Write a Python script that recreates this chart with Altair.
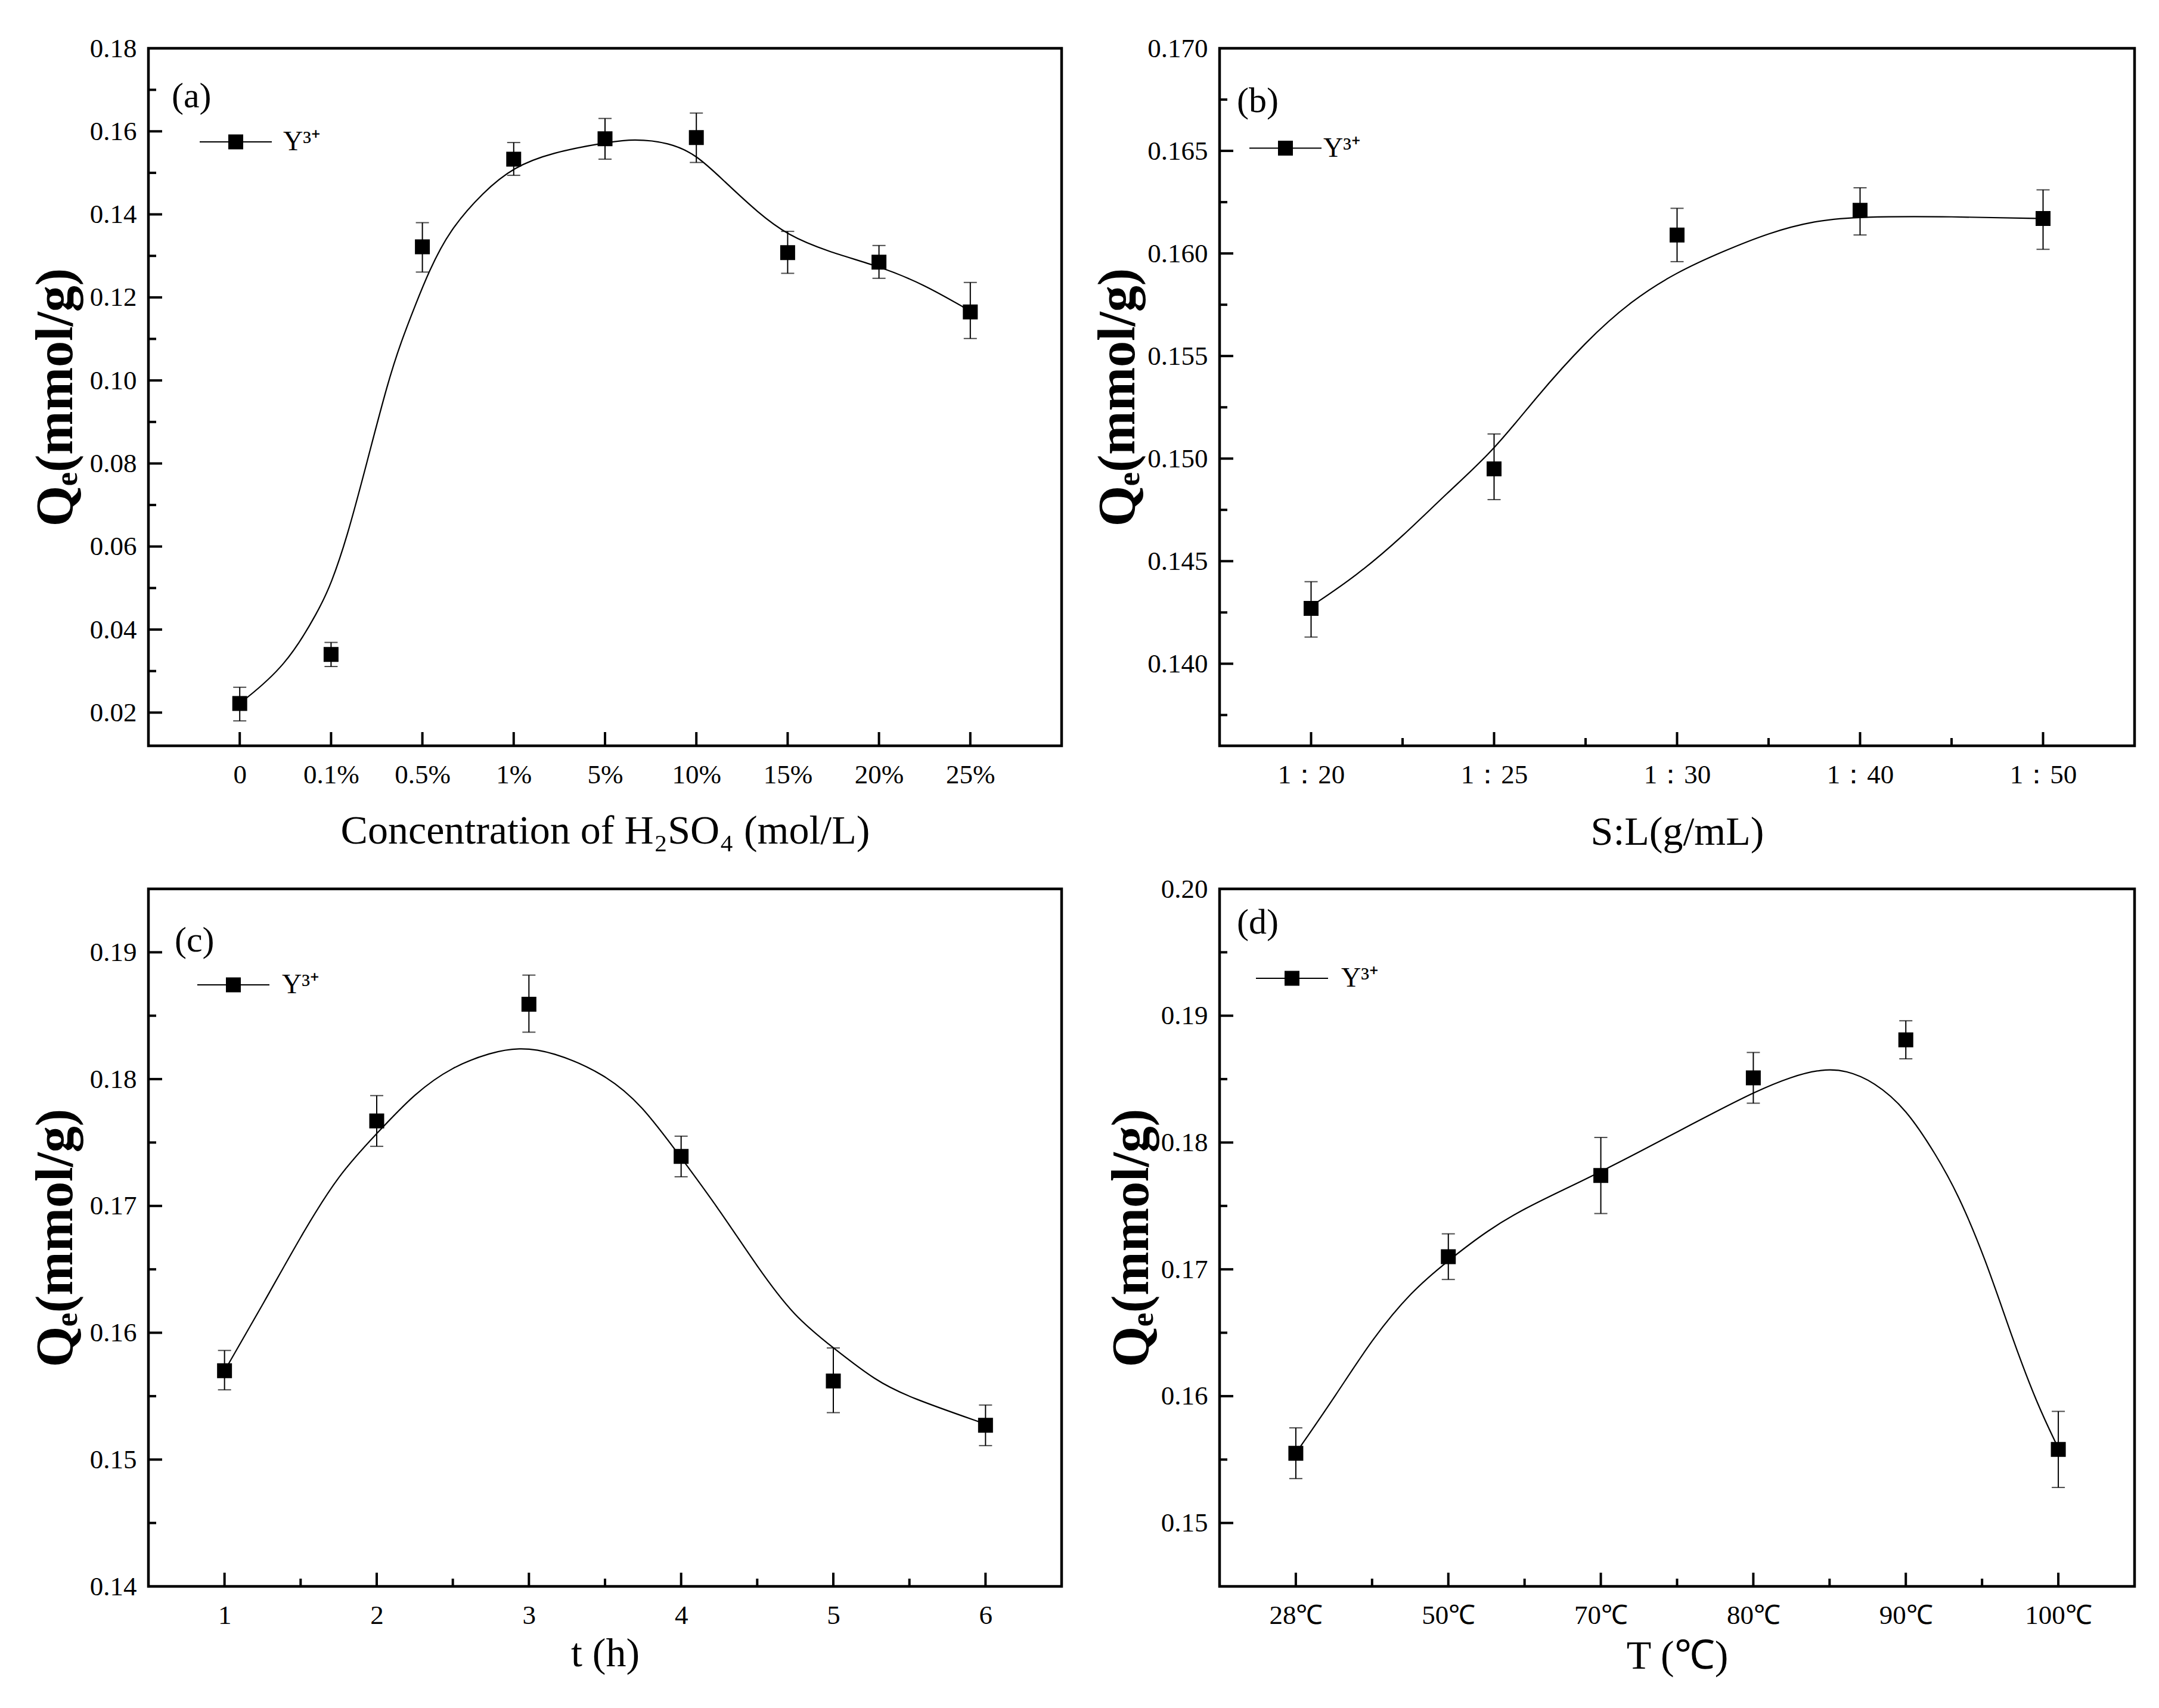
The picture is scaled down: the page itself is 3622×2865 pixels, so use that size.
import json
import altair as alt
import pandas as pd

FONT = "Liberation Serif"
SERIES = "Y\u00b3\u207a"

# ---------------- Panel (a) ----------------
a_cats = ["0", "0.1%", "0.5%", "1%", "5%", "10%", "15%", "20%", "25%"]
a_val = [0.0222, 0.0340, 0.1322, 0.1533, 0.1582, 0.1585, 0.1308, 0.1285, 0.1165]
a_lo = [0.0180, 0.0311, 0.1261, 0.1494, 0.1533, 0.1525, 0.1258, 0.1246, 0.1101]
a_hi = [0.0261, 0.0369, 0.1380, 0.1573, 0.1631, 0.1644, 0.1359, 0.1325, 0.1236]
a_cx = [0, 0.5, 0.87, 1.0, 1.17, 1.39, 1.62, 1.77, 1.92, 2.07, 2.29, 2.67, 3.0, 3.42,
        4.0, 4.32, 4.7, 5.0, 5.3, 5.68, 6.0, 6.43, 7.0, 7.48, 8.0]
a_cy = [0.0222, 0.0310, 0.0448, 0.0510, 0.0618, 0.0800, 0.0995, 0.1095, 0.1180,
        0.1262, 0.1360, 0.1455, 0.1514, 0.1549, 0.1573, 0.1582, 0.1573, 0.1544,
        0.1481, 0.1403, 0.1350, 0.1311, 0.1275, 0.1233, 0.1167]
a_ymaj = [0.02, 0.04, 0.06, 0.08, 0.10, 0.12, 0.14, 0.16, 0.18]
a_ymin = [0.03, 0.05, 0.07, 0.09, 0.11, 0.13, 0.15, 0.17]

# ---------------- Panel (b) ----------------
b_cats = ["1\uff1a20", "1\uff1a25", "1\uff1a30", "1\uff1a40", "1\uff1a50"]
b_val = [0.1427, 0.1495, 0.1609, 0.1621, 0.1617]
b_lo = [0.1413, 0.1480, 0.1596, 0.1609, 0.1602]
b_hi = [0.1440, 0.1512, 0.1622, 0.1632, 0.1631]
b_cx = [0, 0.25, 0.5, 0.74, 1.0, 1.23, 1.5, 1.75, 2.0, 2.25, 2.5, 2.75, 3.0, 3.5, 4.0]
b_cy = [0.1428, 0.1443, 0.1462, 0.1483, 0.1504, 0.1530, 0.1557, 0.1577, 0.1591,
        0.1601, 0.1610, 0.1616, 0.1618, 0.1618, 0.1617]
b_ymaj = [0.140, 0.145, 0.150, 0.155, 0.160, 0.165, 0.170]
b_ymin = [0.1375, 0.1425, 0.1475, 0.1525, 0.1575, 0.1625, 0.1675]

# ---------------- Panel (c) ----------------
c_cats = ["1", "2", "3", "4", "5", "6"]
c_val = [0.1570, 0.1767, 0.1859, 0.1739, 0.1562, 0.1527]
c_lo = [0.1555, 0.1747, 0.1837, 0.1723, 0.1537, 0.1511]
c_hi = [0.1586, 0.1787, 0.1882, 0.1755, 0.1588, 0.1543]
c_cx = [0, 0.26, 0.5, 0.75, 1.0, 1.25, 1.5, 1.75, 1.93, 2.15, 2.5, 2.74, 3.0, 3.24,
        3.5, 3.74, 4.0, 4.28, 4.5, 5.0]
c_cy = [0.1570, 0.1624, 0.1676, 0.1725, 0.1757, 0.1789, 0.1810, 0.1821, 0.1825,
        0.1822, 0.1804, 0.1780, 0.1738, 0.1699, 0.1652, 0.1613, 0.1588, 0.1562,
        0.1549, 0.1528]
c_ymaj = [0.14, 0.15, 0.16, 0.17, 0.18, 0.19]
c_ymin = [0.145, 0.155, 0.165, 0.175, 0.185]

# ---------------- Panel (d) ----------------
d_cats = ["28\u2103", "50\u2103", "70\u2103", "80\u2103", "90\u2103", "100\u2103"]
d_val = [0.1555, 0.1710, 0.1774, 0.1851, 0.1881, 0.1558]
d_lo = [0.1535, 0.1692, 0.1744, 0.1831, 0.1866, 0.1528]
d_hi = [0.1575, 0.1728, 0.1804, 0.1871, 0.1896, 0.1588]
d_cx = [0, 0.27, 0.5, 0.76, 1.0, 1.26, 1.5, 1.76, 2.0, 2.26, 2.51, 2.75, 3.01, 3.25,
        3.45, 3.61, 3.79, 4.0, 4.2, 4.34, 4.52, 4.7, 4.86, 5.0]
d_cy = [0.1555, 0.1602, 0.1645, 0.1683, 0.1707, 0.1731, 0.1748, 0.1763, 0.1777,
        0.1793, 0.1809, 0.1824, 0.1840, 0.1852, 0.1858, 0.1857, 0.1848, 0.1827,
        0.1790, 0.1760, 0.1709, 0.1645, 0.1594, 0.1559]
d_ymaj = [0.15, 0.16, 0.17, 0.18, 0.19, 0.20]
d_ymin = [0.155, 0.165, 0.175, 0.185, 0.195]

LEG_PATH = "M-1,0H-0.19M0.19,0H1M-0.19,-0.19H0.19V0.19H-0.19Z"


def panel(cats, val, lo, hi, cx, cy, xdom, ydom, ymaj, ymin, xminor, yfmt,
          xtitle, ytitle, tag, W, H, tag_xy, leg_xy, leg_off, x_tpad, y_tpad):
    idx = list(range(len(cats)))
    pts = pd.DataFrame({"x": idx, "v": val, "lo": lo, "hi": hi,
                        "series": [SERIES] * len(cats)})
    cur = pd.DataFrame({"x": cx, "y": cy})
    xs = alt.Scale(domain=xdom, nice=False, zero=False)
    ys = alt.Scale(domain=ydom, nice=False, zero=False)
    lab = json.dumps(cats, ensure_ascii=False) + "[datum.value]"
    xaxis = alt.Axis(values=idx, labelExpr=lab, title=xtitle, titlePadding=x_tpad,
                     labelPadding=26, labelFont=FONT, labelFontSize=45,
                     titleFont=FONT, titleFontSize=68, titleFontWeight="normal")
    yaxis = alt.Axis(values=ymaj, format=yfmt, title=ytitle, titlePadding=y_tpad,
                     labelPadding=20, labelFont=FONT, labelFontSize=45,
                     titleFont=FONT, titleFontSize=88, titleFontWeight="bold")
    X = lambda f: alt.X(f, scale=xs, axis=xaxis)
    Y = lambda f: alt.Y(f, scale=ys, axis=yaxis)

    curve = alt.Chart(cur).mark_line(interpolate="basis", color="black",
                                     strokeWidth=2.2).encode(x=X("x:Q"), y=Y("y:Q"))
    base = alt.Chart(pts)
    err = base.mark_rule(color="black", strokeWidth=2).encode(
        x=X("x:Q"), y=Y("lo:Q"), y2="hi:Q")
    cap_hi = base.mark_tick(orient="horizontal", size=22, thickness=2,
                            color="black").encode(x=X("x:Q"), y=Y("hi:Q"))
    cap_lo = base.mark_tick(orient="horizontal", size=22, thickness=2,
                            color="black").encode(x=X("x:Q"), y=Y("lo:Q"))
    sq = base.mark_square(size=529, filled=True, opacity=1, stroke="black",
                          strokeWidth=2).encode(
        x=X("x:Q"), y=Y("v:Q"),
        color=alt.Color("series:N", scale=alt.Scale(range=["black"]),
                        legend=alt.Legend(orient="none", legendX=leg_xy[0],
                                          legendY=leg_xy[1], title=None,
                                          symbolType=LEG_PATH, symbolSize=14641,
                                          symbolStrokeWidth=2,
                                          symbolStrokeColor="black",
                                          labelFont=FONT, labelFontSize=46,
                                          labelColor="black",
                                          labelOffset=leg_off, padding=0)))
    yt_maj = alt.Chart(pd.DataFrame({"v": ymaj})).mark_rule(
        color="black", strokeWidth=4).encode(y=Y("v:Q"), x=alt.value(0), x2=alt.value(23))
    yt_min = alt.Chart(pd.DataFrame({"v": ymin})).mark_rule(
        color="black", strokeWidth=4).encode(y=Y("v:Q"), x=alt.value(0), x2=alt.value(13))
    xt_maj = alt.Chart(pd.DataFrame({"v": idx})).mark_rule(
        color="black", strokeWidth=4).encode(x=X("v:Q"), y=alt.value(H), y2=alt.value(H - 23))
    layers = [yt_maj, yt_min, xt_maj]
    if xminor:
        xt_min = alt.Chart(pd.DataFrame({"v": xminor})).mark_rule(
            color="black", strokeWidth=4).encode(x=X("v:Q"), y=alt.value(H), y2=alt.value(H - 13))
        layers.append(xt_min)
    txt = alt.Chart(pd.DataFrame({"t": [tag]})).mark_text(
        align="left", baseline="middle", font=FONT, fontSize=60, color="black").encode(
        x=alt.value(tag_xy[0]), y=alt.value(tag_xy[1]), text="t:N")
    layers += [curve, err, cap_hi, cap_lo, sq, txt]
    return alt.layer(*layers).properties(width=W, height=H)


QT = "Q\u2091(mmol/g)"
pa = panel(a_cats, a_val, a_lo, a_hi, a_cx, a_cy, [-1, 9], [0.012, 0.18], a_ymaj, a_ymin,
           None, ".2f", "Concentration of H\u2082SO\u2084 (mol/L)", QT, "(a)",
           1532, 1170, (39, 81), (85, 95.5), 18, 38, 12)
pb = panel(b_cats, b_val, b_lo, b_hi, b_cx, b_cy, [-0.5, 4.5], [0.136, 0.170], b_ymaj, b_ymin,
           [0.5, 1.5, 2.5, 3.5], ".3f", "S:L(g/mL)", QT, "(b)",
           1535, 1170, (29, 89), (49, 106), 2, 40, 4)
pc = panel(c_cats, c_val, c_lo, c_hi, c_cx, c_cy, [-0.5, 5.5], [0.14, 0.195], c_ymaj, c_ymin,
           [0.5, 1.5, 2.5, 3.5, 4.5], ".2f", "t (h)", QT, "(c)",
           1532, 1170, (44, 87), (81, 99.5), 20, 8, 12)
pd_ = panel(d_cats, d_val, d_lo, d_hi, d_cx, d_cy, [-0.5, 5.5], [0.145, 0.20], d_ymaj, d_ymin,
            [0.5, 1.5, 2.5, 3.5, 4.5], ".2f", "T (\u2103)", QT, "(d)",
            1535, 1170, (29, 57), (60, 88.5), 21, 12, 4)

chart = alt.concat(pa, pb, pc, pd_, columns=2,
                   spacing=alt.RowColnumber(row=240, column=265),
                   bounds="flush").resolve_scale(
    color="independent").resolve_legend(color="independent").properties(
    padding={"left": 40, "top": 48, "right": 10, "bottom": 10},
    background="white",
).configure_view(stroke="black", strokeWidth=4.5).configure_axis(
    grid=False, domain=False, ticks=False, tickSize=0,
    labelFont=FONT, labelFontSize=45, labelColor="black",
    titleFont=FONT, titleColor="black")

chart.save("out.html", embed_options={"renderer": "svg", "actions": False})
